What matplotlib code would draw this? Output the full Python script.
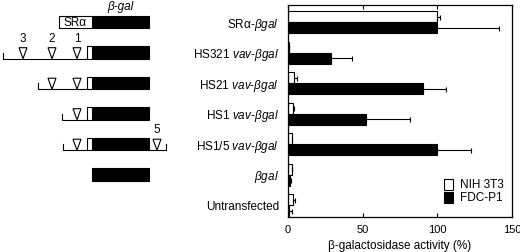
import matplotlib
matplotlib.use('Agg')
import matplotlib.pyplot as plt
from matplotlib.patches import Rectangle, Polygon
import numpy as np

plt.rcParams['font.family'] = ['Liberation Sans', 'DejaVu Sans']
plt.rcParams['mathtext.fontset'] = 'custom'
plt.rcParams['mathtext.rm'] = 'Liberation Sans'
plt.rcParams['mathtext.it'] = 'Liberation Sans:italic'

# datos del grafico
categorias = ['SRα-βgal', 'HS321 vav-βgal', 'HS21 vav-βgal', 'HS1 vav-βgal',
              'HS1/5 vav-βgal', 'βgal', 'Untransfected']
etiquetas = ['SRα-$\\mathit{βgal}$',
             'HS321 $\\mathit{vav}$-$\\mathit{βgal}$',
             'HS21 $\\mathit{vav}$-$\\mathit{βgal}$',
             'HS1 $\\mathit{vav}$-$\\mathit{βgal}$',
             'HS1/5 $\\mathit{vav}$-$\\mathit{βgal}$',
             '$\\mathit{βgal}$',
             'Untransfected']
nih3t3 = [100, 1, 4, 3.5, 2.5, 2.7, 3.6]
nih3t3_err = [2, 0, 1.8, 0.5, 0, 0, 0.8]
fdcp1 = [100, 28.6, 90.6, 52.2, 99.5, 1.5, 1]
fdcp1_err = [41.5, 14.5, 15.2, 29.8, 23, 0.5, 1.5]

# esquema de los constructos (posiciones del dibujo)
sitios = {'3': 23, '2': 52, '1': 77, '5': 157}
inicio_linea = [None, 3, 38, 62, 63, None]
sitios_fila = [[], ['3', '2', '1'], ['2', '1'], ['1'], ['1', '5'], []]
sitios_rotulo = [[], ['3', '2', '1'], [], [], ['5'], []]

fig = plt.figure(figsize=(5.2, 2.52), dpi=100)
ax = fig.add_axes([288 / 520, 35 / 252, 224 / 520, 212 / 252])
y = np.arange(len(categorias))
h = 0.36

ax.barh(y - h / 2, nih3t3, height=h, color='white', edgecolor='black',
        linewidth=0.8, label='NIH 3T3')
ax.barh(y + h / 2, fdcp1, height=h, color='black', edgecolor='black',
        linewidth=0.8, label='FDC-P1')
ax.errorbar(nih3t3, y - h / 2, xerr=[np.zeros(len(y)), nih3t3_err], fmt='none',
            ecolor='black', elinewidth=0.8, capsize=1.8, capthick=0.8)
ax.errorbar(fdcp1, y + h / 2, xerr=[np.zeros(len(y)), fdcp1_err], fmt='none',
            ecolor='black', elinewidth=0.8, capsize=1.8, capthick=0.8)

ax.set_xlim(0, 150)
ax.set_ylim(6.39, -0.56)
ax.set_xticks([0, 50, 100, 150])
ax.set_yticks(y)
ax.set_yticklabels(etiquetas, fontsize=8.5)
ax.tick_params(axis='y', length=0, pad=6.5)
ax.tick_params(axis='x', direction='in', top=True, length=3, width=0.8,
               labelsize=8, pad=6)
for s in ax.spines.values():
    s.set_linewidth(0.9)
ax.set_xlabel('β-galactosidase activity (%)', fontsize=8.5, labelpad=3)
ax.legend(loc='lower right', bbox_to_anchor=(1.0, 0.02), frameon=False,
          fontsize=8.5, handlelength=0.75, handleheight=1.1, handletextpad=0.6,
          labelspacing=0.05, borderpad=0.2)

# dibujo de los constructos a la izquierda
ad = fig.add_axes([0, 35 / 252, 175 / 520, 212 / 252], sharey=ax)
ad.set_xlim(0, 175)
ad.axis('off')
bh = 0.2
for i in range(6):
    yc = i
    # caja negra beta-gal
    ad.add_patch(Rectangle((92, yc - bh), 57, 2 * bh, facecolor='black',
                           edgecolor='black', lw=0.8))
    if i == 0:
        ad.add_patch(Rectangle((59, yc - bh), 33, 2 * bh, facecolor='white',
                               edgecolor='black', lw=0.8))
        ad.text(75, yc + 0.02, 'SRα', ha='center', va='center', fontsize=8.5)
        ad.text(120, yc - bh - 0.1, 'β-gal', ha='center', va='bottom',
                fontsize=8.5, style='italic')
    if inicio_linea[i] is not None:
        yb = yc + bh
        ad.add_patch(Rectangle((87, yc - bh), 5, 2 * bh, facecolor='white',
                               edgecolor='black', lw=0.8))
        x0 = inicio_linea[i]
        ad.plot([x0, x0, 87], [yb - 0.2, yb, yb], color='black', lw=0.8)
        if '5' in sitios_fila[i]:
            ad.plot([149, 166, 166], [yb, yb, yb - 0.2], color='black', lw=0.8)
        for s in sitios_fila[i]:
            xs = sitios[s]
            ad.add_patch(Polygon([[xs - 4, yc - bh + 0.04], [xs + 4, yc - bh + 0.04],
                                  [xs, yb]], closed=True, facecolor='white',
                                 edgecolor='black', lw=0.8))
            if s in sitios_rotulo[i]:
                ad.text(xs, yc - bh - 0.06, s, ha='center', va='bottom',
                        fontsize=8.5)

fig.savefig('out.png', dpi=100)
